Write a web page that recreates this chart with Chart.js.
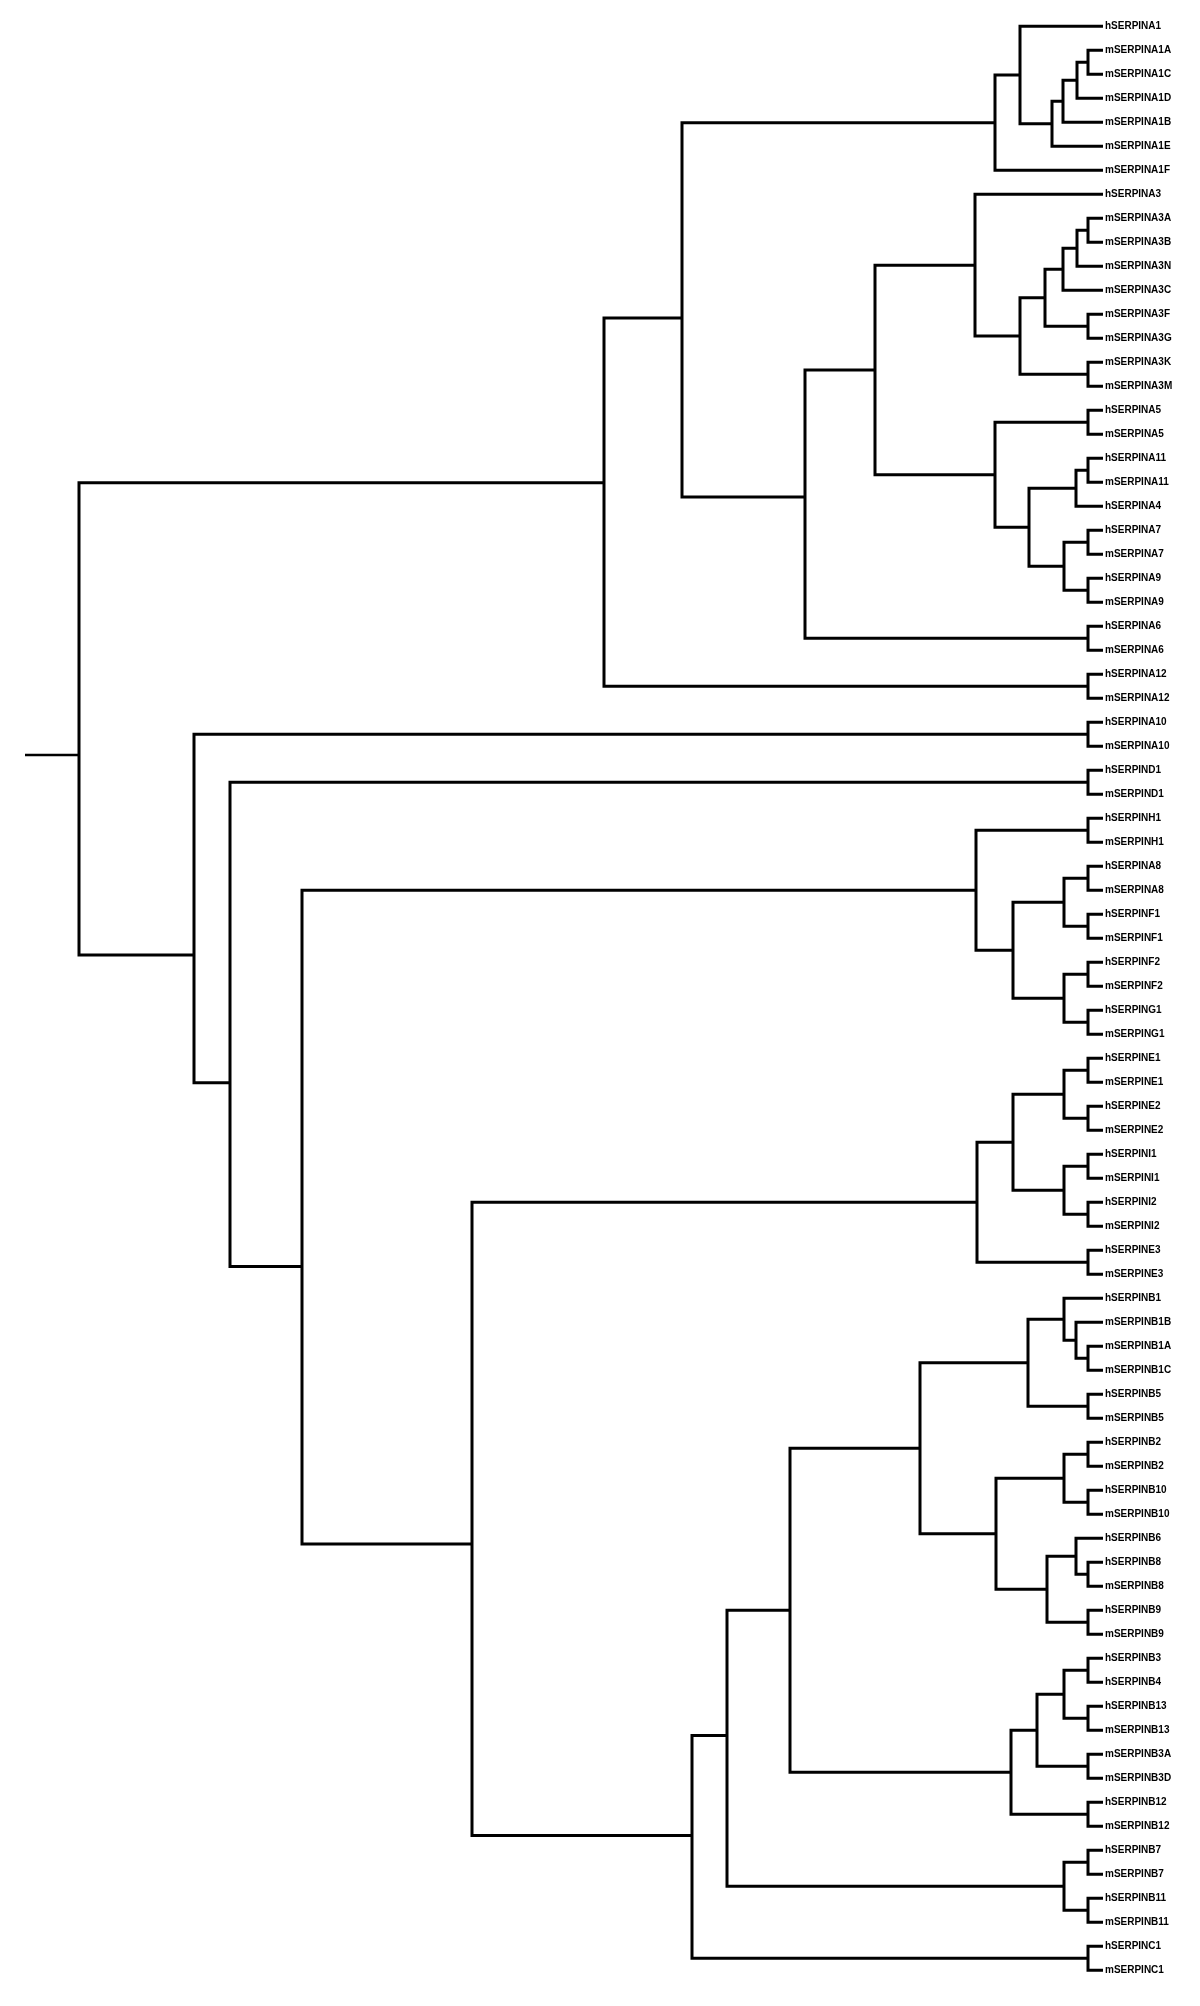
<!DOCTYPE html>
<html>
<head>
<meta charset="utf-8">
<title>SERPIN dendrogram</title>
<script src="https://cdn.jsdelivr.net/npm/chart.js@4.4.1/dist/chart.umd.min.js"></script>
<style>
  body { margin: 0; background: #fff; }
  #wrap { width: 1200px; height: 2006px; position: relative; }
</style>
</head>
<body>
<div id="wrap"><canvas id="tree"></canvas></div>
<script>
// leaves, top to bottom (row = index)
var leafLabels = [
  'hSERPINA1', 'mSERPINA1A', 'mSERPINA1C', 'mSERPINA1D', 'mSERPINA1B', 'mSERPINA1E', 'mSERPINA1F',
  'hSERPINA3', 'mSERPINA3A', 'mSERPINA3B', 'mSERPINA3N', 'mSERPINA3C', 'mSERPINA3F', 'mSERPINA3G',
  'mSERPINA3K', 'mSERPINA3M', 'hSERPINA5', 'mSERPINA5', 'hSERPINA11', 'mSERPINA11', 'hSERPINA4',
  'hSERPINA7', 'mSERPINA7', 'hSERPINA9', 'mSERPINA9', 'hSERPINA6', 'mSERPINA6', 'hSERPINA12',
  'mSERPINA12', 'hSERPINA10', 'mSERPINA10', 'hSERPIND1', 'mSERPIND1', 'hSERPINH1', 'mSERPINH1',
  'hSERPINA8', 'mSERPINA8', 'hSERPINF1', 'mSERPINF1', 'hSERPINF2', 'mSERPINF2', 'hSERPING1',
  'mSERPING1', 'hSERPINE1', 'mSERPINE1', 'hSERPINE2', 'mSERPINE2', 'hSERPINI1', 'mSERPINI1',
  'hSERPINI2', 'mSERPINI2', 'hSERPINE3', 'mSERPINE3', 'hSERPINB1', 'mSERPINB1B', 'mSERPINB1A',
  'mSERPINB1C', 'hSERPINB5', 'mSERPINB5', 'hSERPINB2', 'mSERPINB2', 'hSERPINB10', 'mSERPINB10',
  'hSERPINB6', 'hSERPINB8', 'mSERPINB8', 'hSERPINB9', 'mSERPINB9', 'hSERPINB3', 'hSERPINB4',
  'hSERPINB13', 'mSERPINB13', 'mSERPINB3A', 'mSERPINB3D', 'hSERPINB12', 'mSERPINB12', 'hSERPINB7',
  'mSERPINB7', 'hSERPINB11', 'mSERPINB11', 'hSERPINC1', 'mSERPINC1'
];

// internal nodes [id, upper child, lower child], children always listed first
var nodeLinks = [
  ['n1', 'mSERPINA1A', 'mSERPINA1C'], ['n2', 'n1', 'mSERPINA1D'], ['n3', 'n2', 'mSERPINA1B'],
  ['n4', 'n3', 'mSERPINA1E'], ['n5', 'hSERPINA1', 'n4'], ['n6', 'n5', 'mSERPINA1F'],

  ['n7', 'mSERPINA3A', 'mSERPINA3B'], ['n8', 'n7', 'mSERPINA3N'], ['n9', 'n8', 'mSERPINA3C'],
  ['n10', 'mSERPINA3F', 'mSERPINA3G'], ['n11', 'n9', 'n10'], ['n12', 'mSERPINA3K', 'mSERPINA3M'],
  ['n13', 'n11', 'n12'], ['n14', 'hSERPINA3', 'n13'],

  ['n15', 'hSERPINA5', 'mSERPINA5'], ['n16', 'hSERPINA11', 'mSERPINA11'], ['n17', 'n16', 'hSERPINA4'],
  ['n18', 'hSERPINA7', 'mSERPINA7'], ['n19', 'hSERPINA9', 'mSERPINA9'], ['n20', 'n18', 'n19'],
  ['n21', 'n17', 'n20'], ['n22', 'n15', 'n21'],

  ['n23', 'n14', 'n22'], ['n24', 'hSERPINA6', 'mSERPINA6'], ['n25', 'n23', 'n24'],
  ['n26', 'n6', 'n25'], ['n27', 'hSERPINA12', 'mSERPINA12'], ['n28', 'n26', 'n27'],

  ['n29', 'hSERPINA10', 'mSERPINA10'], ['n30', 'hSERPIND1', 'mSERPIND1'],

  ['n31', 'hSERPINH1', 'mSERPINH1'], ['n32', 'hSERPINA8', 'mSERPINA8'], ['n33', 'hSERPINF1', 'mSERPINF1'],
  ['n34', 'n32', 'n33'], ['n35', 'hSERPINF2', 'mSERPINF2'], ['n36', 'hSERPING1', 'mSERPING1'],
  ['n37', 'n35', 'n36'], ['n38', 'n34', 'n37'], ['n39', 'n31', 'n38'],

  ['n40', 'hSERPINE1', 'mSERPINE1'], ['n41', 'hSERPINE2', 'mSERPINE2'], ['n42', 'n40', 'n41'],
  ['n43', 'hSERPINI1', 'mSERPINI1'], ['n44', 'hSERPINI2', 'mSERPINI2'], ['n45', 'n43', 'n44'],
  ['n46', 'n42', 'n45'], ['n47', 'hSERPINE3', 'mSERPINE3'], ['n48', 'n46', 'n47'],

  ['n49', 'mSERPINB1A', 'mSERPINB1C'], ['n50', 'mSERPINB1B', 'n49'], ['n51', 'hSERPINB1', 'n50'],
  ['n52', 'hSERPINB5', 'mSERPINB5'], ['n53', 'n51', 'n52'],

  ['n54', 'hSERPINB2', 'mSERPINB2'], ['n55', 'hSERPINB10', 'mSERPINB10'], ['n56', 'n54', 'n55'],
  ['n57', 'hSERPINB8', 'mSERPINB8'], ['n58', 'hSERPINB6', 'n57'], ['n59', 'hSERPINB9', 'mSERPINB9'],
  ['n60', 'n58', 'n59'], ['n61', 'n56', 'n60'], ['n62', 'n53', 'n61'],

  ['n63', 'hSERPINB3', 'hSERPINB4'], ['n64', 'hSERPINB13', 'mSERPINB13'], ['n65', 'n63', 'n64'],
  ['n66', 'mSERPINB3A', 'mSERPINB3D'], ['n67', 'n65', 'n66'], ['n68', 'hSERPINB12', 'mSERPINB12'],
  ['n69', 'n67', 'n68'], ['n70', 'n62', 'n69'],

  ['n71', 'hSERPINB7', 'mSERPINB7'], ['n72', 'hSERPINB11', 'mSERPINB11'], ['n73', 'n71', 'n72'],
  ['n74', 'n70', 'n73'], ['n75', 'hSERPINC1', 'mSERPINC1'], ['n76', 'n74', 'n75'],
  ['n77', 'n48', 'n76'], ['n78', 'n39', 'n77'], ['n79', 'n30', 'n78'], ['n80', 'n29', 'n79'],
  ['root', 'n28', 'n80']
];

// branch point of each node on the distance axis (same order as nodeLinks)
var nodeX = [
  1088, 1077, 1063, 1052, 1020, 995,
  1088, 1077, 1063, 1088, 1045, 1088, 1020, 975,
  1088, 1088, 1076, 1088, 1088, 1064, 1029, 995,
  875, 1088, 805, 682, 1088, 604,
  1088, 1088,
  1088, 1088, 1088, 1064, 1088, 1088, 1064, 1013, 976,
  1088, 1088, 1064, 1088, 1088, 1064, 1013, 1088, 977,
  1088, 1076, 1064, 1088, 1028,
  1088, 1088, 1064, 1088, 1076, 1088, 1047, 996, 920,
  1088, 1088, 1064, 1088, 1037, 1088, 1011, 790,
  1088, 1088, 1064, 727, 1088, 692, 472, 302, 230, 194, 79
];

// row where the parent branch meets the node; null = halfway between its children
var nodeRow = [
  null, null, null, null, null, null,
  null, null, null, null, null, null, null, null,
  null, null, null, null, null, null, null, null,
  null, null, 19.61, 12.15, null, 19.02,
  null, null,
  null, null, null, null, null, null, null, null, null,
  null, null, null, null, null, null, null, null, null,
  null, null, null, null, null,
  null, null, null, null, null, null, null, null, null,
  null, null, null, null, null, null, null, null,
  null, null, null, 71.22, null, 75.39, 63.24, 51.68, 44.02, 38.70, 30.36
];

var tipX = 1103;      // leaf ends
var rootStart = 25;   // start of root stub

var pos = {};
leafLabels.forEach(function (name, i) {
  pos[name] = { x: tipX, row: i };
});

// each node drawn as one bracket, gaps between brackets
var branchPoints = [];
nodeLinks.forEach(function (link, i) {
  var a = pos[link[1]];
  var b = pos[link[2]];
  var row = nodeRow[i] !== null ? nodeRow[i] : (a.row + b.row) / 2;
  pos[link[0]] = { x: nodeX[i], row: row };
  branchPoints.push(
    { x: a.x, y: a.row }, { x: nodeX[i], y: a.row },
    { x: nodeX[i], y: b.row }, { x: b.x, y: b.row },
    { x: null, y: null }
  );
});

var root = pos.root;
var stubPoints = [{ x: rootStart, y: root.row }, { x: root.x, y: root.row }];

var ctx = document.getElementById('tree').getContext('2d');
new Chart(ctx, {
  type: 'line',
  data: {
    datasets: [{
      data: branchPoints,
      borderColor: '#000',
      borderWidth: 3,
      pointRadius: 0,
      tension: 0,
      spanGaps: false,
      borderJoinStyle: 'miter',
      borderCapStyle: 'square'
    }, {
      data: stubPoints,
      borderColor: '#000',
      borderWidth: 2.5,
      pointRadius: 0,
      tension: 0
    }]
  },
  options: {
    responsive: true,
    maintainAspectRatio: false,
    animation: false,
    events: [],
    layout: { padding: 0 },
    plugins: {
      legend: { display: false },
      tooltip: { enabled: false }
    },
    scales: {
      x: {
        type: 'linear',
        display: false,
        min: 0,
        max: tipX
      },
      y: {
        type: 'linear',
        position: 'right',
        reverse: true,
        bounds: 'data',
        min: -1.096,
        max: 82.49,
        grid: { display: false, drawTicks: false },
        border: { display: false },
        afterBuildTicks: function (scale) {
          scale.ticks = leafLabels.map(function (_, i) { return { value: i }; });
        },
        afterFit: function (scale) {
          scale.width = 97;
          scale.paddingTop = 0;
          scale.paddingBottom = 0;
        },
        ticks: {
          autoSkip: false,
          padding: 2,
          color: '#000',
          font: { family: 'Liberation Sans', size: 10, weight: 'bold' },
          callback: function (value) {
            return leafLabels[Math.round(value)];
          }
        }
      }
    }
  }
});
</script>
</body>
</html>
